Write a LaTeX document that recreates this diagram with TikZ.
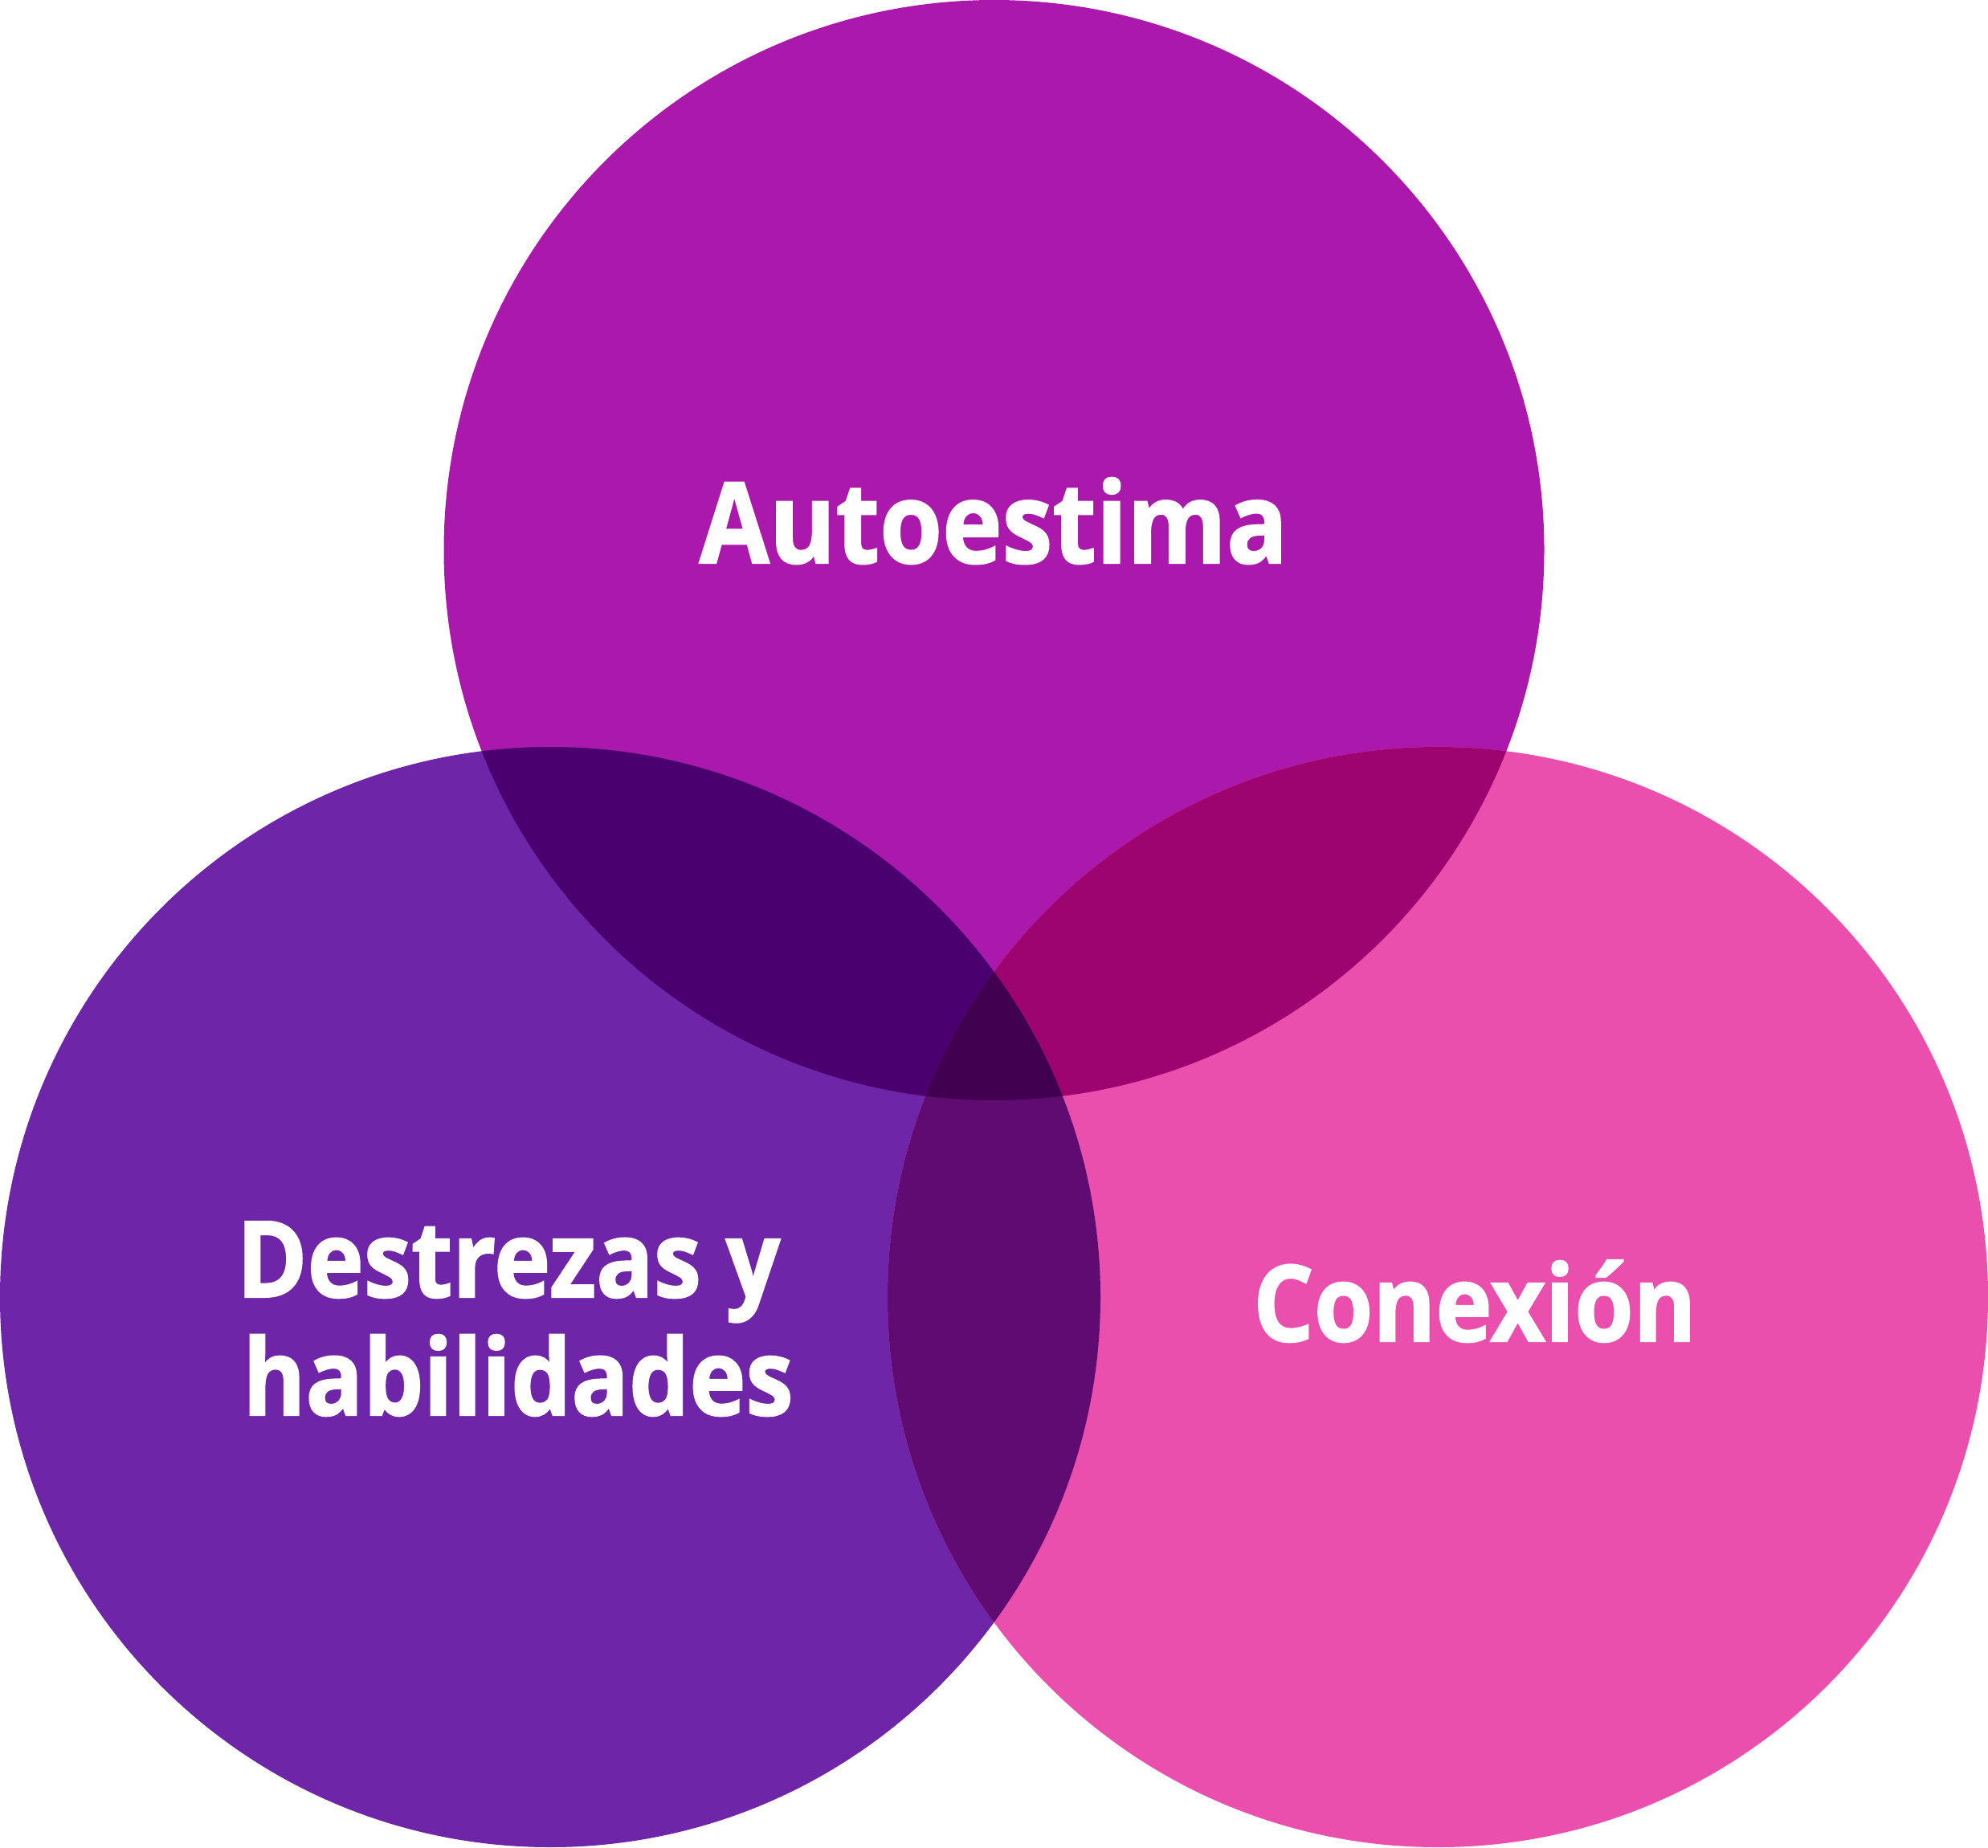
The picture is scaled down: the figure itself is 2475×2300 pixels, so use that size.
\documentclass[tikz,border=0pt]{standalone}
\usepackage{fontspec}
\setmainfont{Open Sans}[FakeStretch=0.9, BoldFeatures={FakeBold=1.5}]
\definecolor{cT}{HTML}{AB18AC}
\definecolor{cL}{HTML}{6E25A8}
\definecolor{cR}{HTML}{EB4FAE}
\definecolor{cTL}{HTML}{4A006E}
\definecolor{cTR}{HTML}{9E0470}
\definecolor{cLR}{HTML}{600B72}
\definecolor{cTLR}{HTML}{420050}
\tikzset{lbl/.style={text=white, font=\fontsize{132}{146}\selectfont\bfseries, align=center, inner sep=0pt},
  biglbl/.style={lbl, font=\fontsize{140}{146}\selectfont\bfseries}}
\begin{document}
\begin{tikzpicture}[x=1pt,y=-1pt]
\useasboundingbox (0,0) rectangle (2475,2300);
\def\CT{(1237.5,685) circle[radius=685]}
\def\CL{(685,1615) circle[radius=685]}
\def\CR{(1790,1615) circle[radius=685]}
\fill[cT] \CT;
\fill[cL] \CL;
\fill[cR] \CR;
\begin{scope}\clip \CT; \fill[cTL] \CL; \fill[cTR] \CR; \end{scope}
\begin{scope}\clip \CL; \fill[cLR] \CR; \end{scope}
\begin{scope}\clip \CT; \clip \CL; \fill[cTLR] \CR; \end{scope}
\node[biglbl, anchor=base] (auto) at (1237,701) {Autoestima};
\node[lbl, anchor=base] (dest) at (633,1615) {Destrezas y};
\node[lbl, anchor=base] (habi) at (645,1762) {habilidades};
\node[lbl, anchor=base] (cone) at (1836,1670) {Conexión};
\end{tikzpicture}
\end{document}
